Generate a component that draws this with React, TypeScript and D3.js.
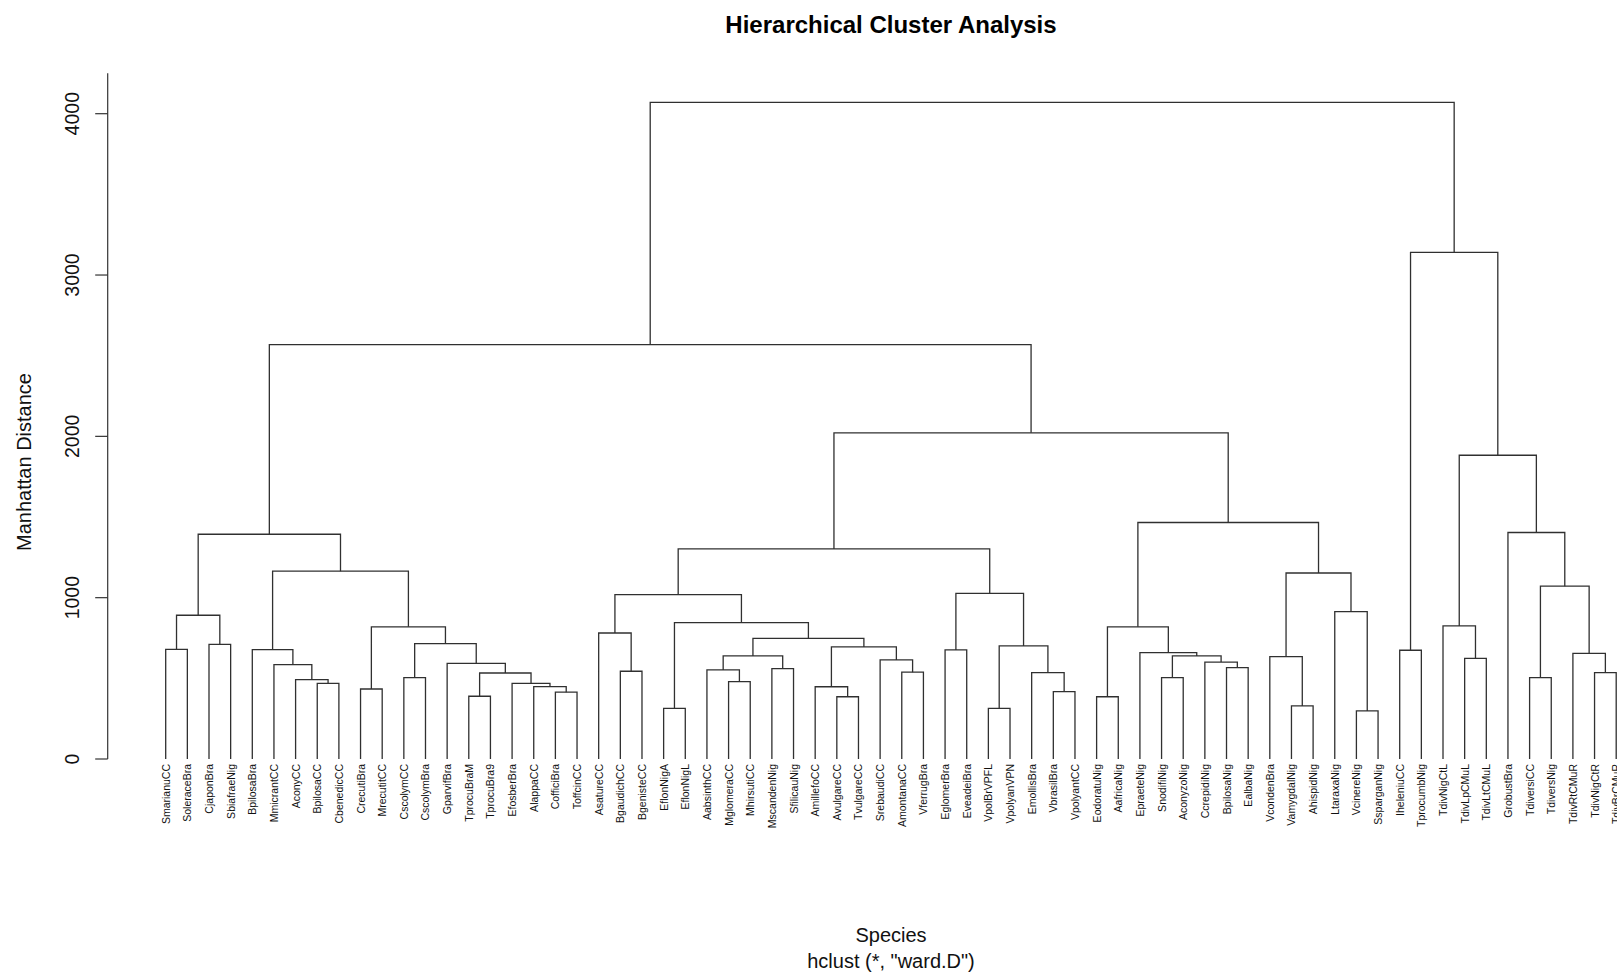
import React from "react";
import * as d3 from "d3";

// leaf order as drawn
const leafLabels = [
  "SmarianuCC", "SoleraceBra", "CjaponBra", "SbiafraeNig", "BpilosaBra",
  "MmicrantCC", "AconyCC", "BpilosaCC", "CbenedicCC", "CrecutiBra",
  "MrecutitCC", "CscolymCC", "CscolymBra", "GparvifBra", "TprocuBraM",
  "TprocuBra9", "EfosberBra", "AlappaCC", "CofficiBra", "ToffcinCC",
  "AsatureCC", "BgaudichCC", "BgenisteCC", "EflonNigA", "EflonNigL",
  "AabsinthCC", "MglomeraCC", "MhirsutiCC", "MscandenNig", "SfilicauNig",
  "AmillefoCC", "AvulgareCC", "TvulgareCC", "SrebaudiCC", "AmontanaCC",
  "VferrugBra", "EglomerBra", "EveadeiBra", "VpolBrVPFL", "VpolyanVPN",
  "EmollisBra", "VbrasilBra", "VpolyantCC", "EodoratuNig", "AafricaNig",
  "EpraeteNig", "SnodifiNig", "AconyzoNig", "CcrepidiNig", "BpilosaNig",
  "EalbaNig", "VcondenBra", "VamygdalNig", "AhispidNig", "LtaraxaNig",
  "VcinereNig", "SsparganNig", "IheleniuCC", "TprocumbNig", "TdivNigCtL",
  "TdivLpCMuL", "TdivLtCMuL", "GrobustBra", "TdiversiCC", "TdiversNig",
  "TdivRtCMuR", "TdivNigCtR", "TdivBrCMuR",
];

// hclust-style merges: negative = leaf (1-based), positive = earlier merge row (1-based)
const mergeLeft = [
  -1, -3, 1, -8, -7, -6, -5, -10, -12, -19,
  -18, -17, -15, 13, -14, 9, 8, 7, 3, -22,
  -21, -24, -27, -26, -29, 24, -32, -31, -35, -34,
  28, 26, 22, 21, -37, -39, -42, -41, 36, 35,
  34, -44, -47, -50, -49, 43, -46, 42, -53, -52,
  -56, -55, 50, 48, 41, 19, -58, -61, -60, -64,
  -67, -66, 60, -63, 59, 57, 56,
];
const mergeRight = [
  -2, -4, 2, -9, 4, 5, 6, -11, -13, -20,
  10, 11, -16, 12, 14, 15, 16, 17, 18, -23,
  20, -25, -28, 23, -30, 25, -33, 27, -36, 29,
  30, 31, 32, 33, -38, -40, -43, 37, 38, 39,
  40, -45, -48, -51, 44, 45, 46, 47, -54, 49,
  -57, 51, 52, 53, 54, 55, -59, -62, 58, -65,
  -68, 61, 62, 63, 64, 65, 66,
];
const mergeHeight = [
  680, 711, 891, 469, 492, 585, 678, 434, 504, 414,
  449, 469, 389, 533, 593, 715, 819, 1164, 1393, 544,
  781, 314, 480, 552, 560, 639, 386, 448, 538, 614,
  695, 748, 845, 1019, 676, 314, 418, 535, 701, 1027,
  1302, 386, 504, 566, 601, 639, 659, 819, 329, 635,
  298, 914, 1153, 1466, 2022, 2569, 674, 624, 825, 504,
  535, 655, 1071, 1404, 1883, 3141, 4070,
];

const yTicks = [0, 1000, 2000, 3000, 4000];

const W = 1617;
const H = 972;
const font = "'Liberation Sans', Arial, Helvetica, sans-serif";

const App: React.FC = () => {
  const x = d3
    .scalePoint<string>()
    .domain(leafLabels)
    .range([165.7, 1616.2]);

  const y = d3.scaleLinear().domain([0, 4000]).range([759, 113.7]);

  // position of every merge node
  const nodeX: number[] = [];
  const nodeH: number[] = [];
  const pos = (id: number) =>
    id < 0
      ? { px: x(leafLabels[-id - 1]) as number, ph: 0 }
      : { px: nodeX[id - 1], ph: nodeH[id - 1] };

  const paths: string[] = [];
  mergeHeight.forEach((h, i) => {
    const l = pos(mergeLeft[i]);
    const r = pos(mergeRight[i]);
    nodeX.push((l.px + r.px) / 2);
    nodeH.push(h);
    const p = d3.path();
    p.moveTo(l.px, y(l.ph));
    p.lineTo(l.px, y(h));
    p.lineTo(r.px, y(h));
    p.lineTo(r.px, y(r.ph));
    paths.push(p.toString());
  });

  const axisX = 107.7;

  return (
    <svg
      width={W}
      height={H}
      style={{ position: "absolute", left: 0, top: 0, background: "#fff" }}
      fontFamily={font}
    >
      <rect width={W} height={H} fill="#fff" />
      <text x={891} y={33} textAnchor="middle" fontSize={24} fontWeight="bold" fill="#000">
        Hierarchical Cluster Analysis
      </text>

      {/* y axis */}
      <g stroke="#333" strokeWidth={1.2} fill="none">
        <line x1={axisX} x2={axisX} y1={y(0)} y2={y(4250)} />
        {yTicks.map((t) => (
          <line key={t} x1={axisX - 12.5} x2={axisX} y1={y(t)} y2={y(t)} />
        ))}
      </g>
      {yTicks.map((t) => (
        <text
          key={t}
          transform={`translate(78.5,${y(t)}) rotate(-90)`}
          textAnchor="middle"
          fontSize={19.5}
          fill="#111"
        >
          {t}
        </text>
      ))}
      <text
        transform={`translate(30.5,462) rotate(-90)`}
        textAnchor="middle"
        fontSize={20}
        fill="#111"
      >
        Manhattan Distance
      </text>

      {/* dendrogram */}
      <g stroke="#303030" strokeWidth={1.3} fill="none">
        {paths.map((d, i) => (
          <path key={i} d={d} />
        ))}
      </g>

      {leafLabels.map((lab) => (
        <text
          key={lab}
          transform={`translate(${x(lab)},764) rotate(-90)`}
          textAnchor="end"
          dominantBaseline="central"
          fontSize={10.5}
          fill="#111"
        >
          {lab}
        </text>
      ))}

      <text x={891} y={942} textAnchor="middle" fontSize={20} fill="#111">
        Species
      </text>
      <text x={891} y={968} textAnchor="middle" fontSize={20} fill="#111">
        hclust (*, "ward.D")
      </text>
    </svg>
  );
};

export default App;
